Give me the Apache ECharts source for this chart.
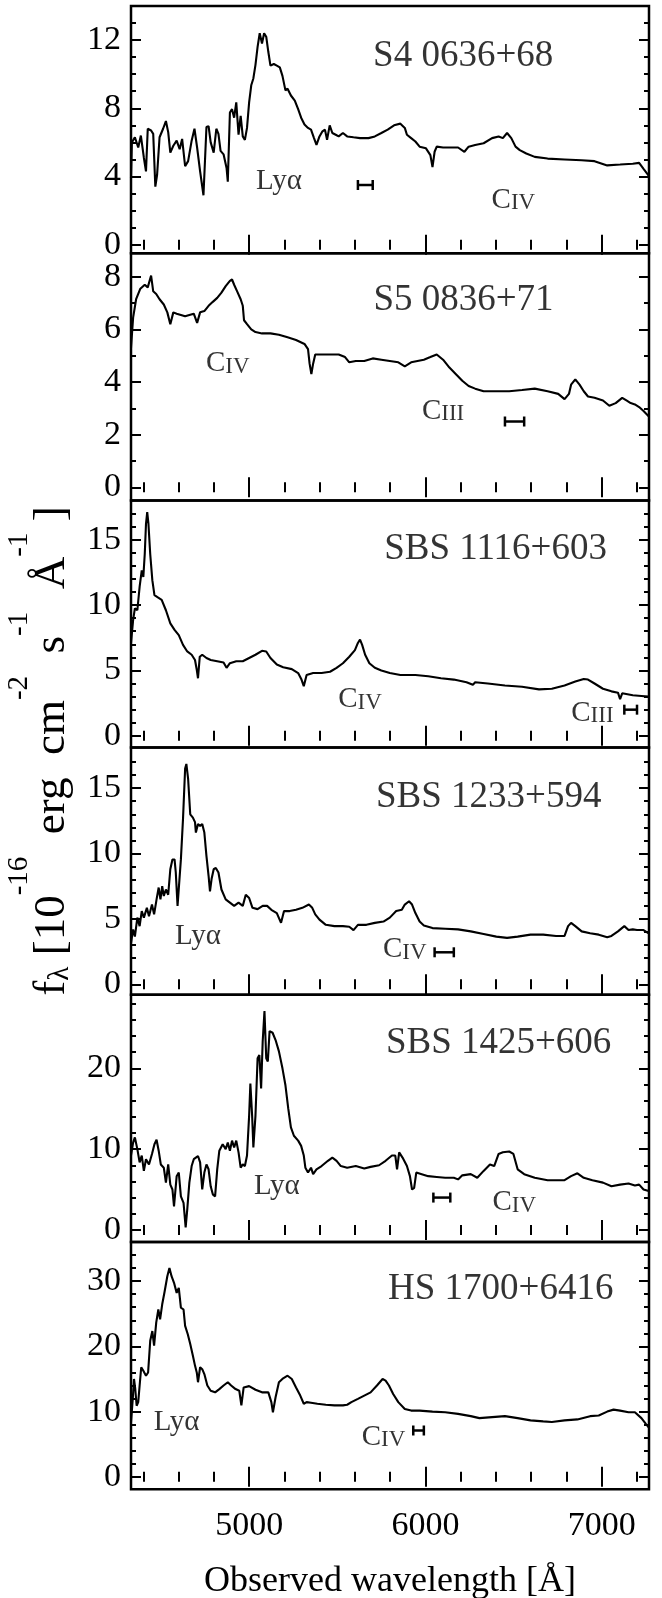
<!DOCTYPE html>
<html><head><meta charset="utf-8">
<script src="https://cdn.jsdelivr.net/npm/echarts@6/dist/echarts.min.js"></script>
<style>html,body{margin:0;padding:0;background:#fff}#c{width:662px;height:1598px}</style>
</head><body><div id="c"></div>
<script>
// ---------------- data ----------------
const WL_MIN = 4330, WL_MAX = 7268;
const xMajorTicks = [5000, 6000, 7000];
const xMinorTicks = [4400,4600,4800,5200,5400,5600,5800,6200,6400,6600,6800,7200];
const xLabel = 'Observed wavelength [Å]';

const panelNames = ['S4 0636+68','S5 0836+71','SBS 1116+603','SBS 1233+594','SBS 1425+606','HS 1700+6416'];
const yMin = [-0.5, -0.5, -0.9, -0.8, -1.5, -1.9];
const yMax = [14.0, 8.9, 18.0, 18.1, 29.1, 36.0];
const yMajorTicks = [[0,4,8,12],[0,2,4,6,8],[0,5,10,15],[0,5,10,15],[0,10,20],[0,10,20,30]];
const yMinorTicks = [
  [1,2,3,5,6,7,9,10,11,13],
  [1,3,5,7],
  [1,2,3,4,6,7,8,9,11,12,13,14,16,17],
  [1,2,3,4,6,7,8,9,11,12,13,14,16,17],
  [2,4,6,8,12,14,16,18,22,24,26,28],
  [2,4,6,8,12,14,16,18,22,24,26,28,32,34]
];

const specS4_0636 = [[4330,3.9],[4335,6.0],[4352,6.3],[4371,5.7],[4386,6.4],[4403,5.1],[4415,4.3],[4425,6.8],[4444,6.7],[4456,6.5],[4468,3.4],[4478,4.1],[4492,6.3],[4512,6.8],[4528,7.25],[4541,6.6],[4553,5.4],[4570,5.8],[4589,6.1],[4606,5.6],[4620,6.2],[4637,4.6],[4654,4.9],[4674,6.1],[4690,6.8],[4705,5.7],[4722,4.3],[4741,2.9],[4758,6.9],[4770,6.95],[4782,6.0],[4799,5.4],[4814,6.8],[4826,6.5],[4838,5.5],[4855,5.3],[4872,4.5],[4879,3.7],[4891,7.75],[4903,7.95],[4915,7.45],[4927,8.35],[4940,6.45],[4952,7.55],[4964,6.35],[4976,6.15],[4988,6.85],[5000,8.35],[5012,9.35],[5024,9.75],[5036,10.55],[5048,11.6],[5060,12.4],[5073,11.8],[5085,12.4],[5097,12.2],[5109,11.3],[5121,10.5],[5140,10.6],[5157,10.5],[5174,10.4],[5189,9.9],[5206,9.05],[5218,9.15],[5237,8.75],[5259,8.45],[5278,7.95],[5295,7.45],[5314,7.05],[5334,6.85],[5351,6.75],[5368,6.25],[5382,5.85],[5399,6.35],[5416,6.65],[5430,6.75],[5442,6.15],[5457,7.0],[5472,6.55],[5491,6.45],[5508,6.35],[5532,6.55],[5556,6.35],[5592,6.3],[5629,6.25],[5677,6.25],[5713,6.35],[5750,6.55],[5786,6.75],[5822,7.0],[5858,7.1],[5883,6.85],[5895,6.45],[5919,6.25],[5943,6.05],[5967,5.75],[6003,5.65],[6028,5.25],[6040,4.55],[6052,5.45],[6064,5.75],[6100,5.7],[6136,5.7],[6185,5.7],[6221,5.45],[6245,5.75],[6282,5.85],[6330,5.95],[6378,6.25],[6415,6.35],[6439,6.25],[6463,6.55],[6487,6.25],[6511,5.75],[6535,5.55],[6572,5.35],[6620,5.15],[6693,5.05],[6789,5.0],[6886,4.95],[6959,4.9],[7031,4.65],[7104,4.7],[7176,4.75],[7212,4.8],[7237,4.45],[7266,4.05]];

const specS5_0836 = [[4330,5.3],[4342,6.45],[4359,7.15],[4383,7.55],[4408,7.7],[4425,7.6],[4444,8.05],[4456,7.45],[4473,7.35],[4492,7.15],[4516,6.95],[4536,6.65],[4553,6.2],[4570,6.65],[4589,6.6],[4613,6.55],[4637,6.5],[4661,6.55],[4686,6.6],[4705,6.25],[4722,6.65],[4746,6.7],[4770,6.9],[4794,7.05],[4819,7.2],[4843,7.4],[4867,7.65],[4891,7.85],[4903,7.9],[4915,7.7],[4932,7.45],[4952,7.15],[4964,6.9],[4971,6.35],[4988,6.2],[5012,6.0],[5036,5.9],[5073,5.85],[5121,5.85],[5169,5.8],[5218,5.7],[5266,5.6],[5314,5.45],[5334,5.25],[5343,4.7],[5353,4.3],[5363,4.7],[5375,5.05],[5411,5.05],[5459,5.05],[5508,5.05],[5544,4.95],[5568,4.75],[5605,4.8],[5653,4.8],[5701,4.9],[5750,4.85],[5798,4.8],[5846,4.75],[5883,4.6],[5919,4.75],[5955,4.8],[5991,4.85],[6028,4.95],[6064,5.05],[6100,4.85],[6136,4.55],[6173,4.3],[6209,4.05],[6245,3.85],[6282,3.75],[6330,3.65],[6402,3.65],[6475,3.65],[6548,3.7],[6620,3.75],[6693,3.65],[6753,3.55],[6789,3.35],[6814,3.55],[6826,3.9],[6850,4.1],[6874,3.9],[6898,3.65],[6922,3.45],[6959,3.4],[7007,3.3],[7043,3.1],[7079,3.2],[7116,3.4],[7140,3.3],[7164,3.2],[7188,3.15],[7212,3.05],[7237,2.9],[7266,2.7]];

const specSBS1116 = [[4330,7.1],[4342,8.85],[4352,9.75],[4366,9.6],[4379,11.4],[4391,12.65],[4400,12.15],[4408,13.9],[4415,16.2],[4422,17.1],[4429,16.2],[4439,13.9],[4451,11.9],[4463,10.75],[4480,10.6],[4504,10.4],[4528,9.6],[4553,8.6],[4577,8.1],[4601,7.7],[4625,6.95],[4649,6.45],[4674,6.2],[4693,5.8],[4703,5.05],[4710,4.4],[4720,6.05],[4734,6.2],[4758,5.95],[4782,5.8],[4819,5.7],[4855,5.6],[4872,5.2],[4891,5.55],[4927,5.7],[4964,5.7],[5000,5.95],[5036,6.2],[5073,6.5],[5097,6.45],[5121,5.95],[5157,5.45],[5193,5.25],[5242,5.1],[5278,4.8],[5297,4.3],[5310,3.8],[5326,4.65],[5363,4.8],[5411,4.8],[5459,4.9],[5496,5.2],[5532,5.55],[5568,6.05],[5600,6.55],[5617,7.1],[5629,7.35],[5641,6.95],[5658,6.2],[5682,5.55],[5713,5.2],[5750,5.0],[5798,4.8],[5858,4.65],[5943,4.65],[6016,4.55],[6088,4.4],[6161,4.3],[6233,4.1],[6269,3.9],[6282,4.1],[6354,4.0],[6451,3.85],[6548,3.75],[6644,3.55],[6717,3.6],[6789,3.85],[6850,4.15],[6898,4.35],[6922,4.3],[6959,4.0],[7007,3.6],[7055,3.4],[7092,3.3],[7104,2.8],[7116,3.25],[7176,3.1],[7225,3.05],[7266,3.0]];

const specSBS1233 = [[4330,3.15],[4342,4.2],[4352,3.65],[4366,5.1],[4379,4.45],[4391,5.6],[4403,5.1],[4420,5.85],[4432,5.2],[4449,6.1],[4461,5.35],[4475,6.5],[4487,7.4],[4497,6.5],[4507,7.5],[4516,6.75],[4528,7.25],[4541,6.85],[4553,8.8],[4565,9.55],[4577,9.55],[4584,8.55],[4594,6.0],[4601,5.85],[4613,9.55],[4625,12.65],[4637,16.5],[4644,16.85],[4654,15.7],[4666,13.0],[4681,12.75],[4693,12.4],[4698,11.6],[4710,12.25],[4722,12.1],[4734,12.25],[4746,11.6],[4758,9.8],[4770,8.3],[4778,7.1],[4787,8.05],[4799,8.8],[4811,8.9],[4826,8.55],[4843,7.25],[4867,6.5],[4891,6.25],[4915,6.0],[4940,6.25],[4964,6.0],[4981,6.85],[5000,6.6],[5019,5.85],[5048,5.75],[5077,6.0],[5102,6.0],[5126,5.7],[5157,5.45],[5181,4.7],[5198,5.6],[5230,5.6],[5266,5.7],[5302,5.85],[5339,6.1],[5358,5.85],[5375,5.35],[5399,4.95],[5435,4.55],[5484,4.45],[5532,4.45],[5568,4.4],[5592,4.15],[5617,4.55],[5665,4.55],[5713,4.7],[5762,4.8],[5798,5.1],[5834,5.6],[5866,5.7],[5883,6.1],[5907,6.35],[5924,6.1],[5943,5.45],[5967,4.8],[5991,4.5],[6040,4.3],[6112,4.25],[6185,4.2],[6257,4.05],[6330,3.85],[6402,3.65],[6463,3.55],[6523,3.65],[6596,3.8],[6668,3.8],[6741,3.7],[6789,3.7],[6809,4.45],[6826,4.7],[6850,4.45],[6886,4.05],[6934,3.9],[6983,3.8],[7031,3.6],[7055,3.7],[7092,4.05],[7128,4.45],[7152,4.15],[7176,4.2],[7200,4.15],[7237,4.15],[7266,3.9]];

const specSBS1425 = [[4330,9.2],[4342,10.8],[4352,11.45],[4366,10.0],[4379,8.35],[4391,9.2],[4403,7.3],[4415,8.75],[4432,8.1],[4449,9.4],[4463,10.6],[4475,11.15],[4487,9.8],[4499,8.1],[4516,7.7],[4528,5.85],[4541,8.1],[4553,5.6],[4565,5.0],[4574,2.9],[4589,6.65],[4601,7.1],[4613,4.15],[4628,3.35],[4640,0.3],[4649,2.5],[4661,5.85],[4674,7.9],[4686,8.75],[4698,8.95],[4710,9.15],[4722,8.35],[4734,5.0],[4746,7.1],[4758,8.1],[4770,7.5],[4782,5.4],[4794,4.4],[4807,4.15],[4819,7.5],[4831,9.8],[4850,10.6],[4867,10.0],[4879,10.8],[4891,9.8],[4903,11.05],[4915,10.2],[4927,11.05],[4940,9.6],[4952,7.7],[4964,8.1],[4976,7.9],[4988,9.2],[5000,14.15],[5007,18.1],[5017,14.15],[5024,10.2],[5036,14.15],[5048,21.25],[5058,21.65],[5068,17.5],[5077,23.35],[5087,27.1],[5097,21.25],[5106,20.85],[5116,24.6],[5133,24.4],[5150,23.5],[5169,22.1],[5189,20.0],[5206,17.9],[5222,15.0],[5237,12.7],[5254,11.65],[5278,11.05],[5295,10.4],[5310,9.2],[5319,7.7],[5334,7.1],[5351,7.7],[5363,6.9],[5382,7.5],[5411,7.9],[5447,8.55],[5472,8.95],[5496,8.55],[5520,7.9],[5556,7.7],[5605,7.9],[5653,7.6],[5689,7.8],[5737,8.0],[5774,8.55],[5810,9.2],[5829,9.2],[5839,7.5],[5851,9.6],[5870,8.95],[5895,7.9],[5912,6.65],[5924,5.0],[5936,5.2],[5948,7.1],[5979,6.9],[6016,6.65],[6064,6.55],[6112,6.45],[6161,6.45],[6185,6.25],[6209,6.75],[6257,6.9],[6294,6.45],[6330,7.3],[6366,8.1],[6390,7.9],[6415,9.4],[6439,9.6],[6475,9.7],[6499,9.4],[6523,7.5],[6560,6.9],[6620,6.45],[6693,6.15],[6789,6.15],[6826,6.65],[6862,7.0],[6898,6.45],[6947,6.15],[7007,5.85],[7055,5.4],[7104,5.6],[7152,5.75],[7188,5.5],[7212,5.6],[7237,5.0],[7266,4.8]];

const specHS1700 = [[4330,8.4],[4340,11.95],[4347,15.0],[4354,13.5],[4362,10.9],[4371,11.45],[4379,14.0],[4388,16.8],[4400,16.25],[4415,15.5],[4427,16.0],[4439,20.85],[4451,22.35],[4461,20.1],[4473,23.65],[4485,25.65],[4495,24.15],[4507,26.45],[4521,28.45],[4536,30.75],[4548,32.0],[4560,30.75],[4574,29.75],[4589,28.2],[4601,28.95],[4613,25.95],[4628,25.65],[4637,23.15],[4652,21.85],[4666,20.35],[4681,18.55],[4693,17.05],[4703,16.0],[4710,14.5],[4722,16.8],[4734,16.5],[4746,15.75],[4763,14.0],[4782,13.2],[4807,12.95],[4831,13.45],[4855,14.0],[4879,14.5],[4898,14.0],[4923,13.45],[4944,13.2],[4956,10.95],[4969,13.7],[5000,13.9],[5036,13.35],[5073,12.95],[5109,12.95],[5126,11.45],[5135,9.9],[5150,12.2],[5169,14.5],[5193,15.1],[5218,15.5],[5242,15.0],[5266,13.7],[5290,12.45],[5310,11.2],[5326,11.45],[5351,11.35],[5387,11.2],[5435,11.05],[5484,10.95],[5532,10.95],[5556,11.05],[5580,11.45],[5617,11.95],[5653,12.45],[5689,12.95],[5725,14.0],[5757,15.0],[5774,14.75],[5793,14.0],[5817,12.7],[5846,11.45],[5883,10.4],[5919,10.15],[5967,10.15],[6040,10.0],[6112,9.9],[6185,9.65],[6257,9.3],[6306,9.0],[6378,9.15],[6451,9.3],[6523,9.0],[6596,8.65],[6668,8.5],[6717,8.4],[6789,8.65],[6862,8.8],[6934,9.3],[6983,9.4],[7031,10.0],[7067,10.3],[7104,10.15],[7152,9.9],[7188,9.9],[7225,9.0],[7249,8.15],[7266,7.6]];

const spectra = [specS4_0636, specS5_0836, specSBS1116, specSBS1233, specSBS1425, specHS1700];

// emission-line labels: [wavelength, flux, text]
const lineLabels = [
  [[5169, 3.7, 'Lyα'], [6499, 2.6, 'C{sc|IV}']],
  [[4879, 4.7, 'C{sc|IV}'], [6100, 2.9, 'C{sc|III}']],
  [[5629, 2.75, 'C{sc|IV}'], [6947, 1.75, 'C{sc|III}']],
  [[4710, 3.7, 'Lyα'], [5883, 2.65, 'C{sc|IV}']],
  [[5157, 5.4, 'Lyα'], [6504, 3.35, 'C{sc|IV}']],
  [[4589, 8.4, 'Lyα'], [5762, 6.1, 'C{sc|IV}']]
];
// panel name anchor: [wavelength, flux]
const nameAnchors = [[6214, 11.07], [6216, 7.1], [6398, 14.3], [6359, 14.3], [6415, 23.1], [6427, 28.7]];
// resolution bars: [from, to, flux]
const resBars = [[5617, 5701, 3.5], [6451, 6560, 2.5], [7128, 7200, 2.0], [6052, 6161, 2.45], [6045, 6141, 4.0], [5931, 5991, 7.1]];

// ---------------- layout / style ----------------
const FONT = 'Liberation Serif';
const TOP = 6, PANEL_H = 247.2, LEFT = 131, RIGHT = 13;
const tickStyle = {color: '#000', width: 2};

const grids = [], xAxes = [], yAxes = [], series = [];
for (let i = 0; i < 6; i++) {
  grids.push({left: LEFT, right: RIGHT, top: TOP + i * PANEL_H, height: PANEL_H,
    outerBoundsMode: 'none', containLabel: false,
    show: true, borderColor: '#000', borderWidth: 2.5, backgroundColor: 'transparent'});
  const xc = {type: 'value', gridIndex: i, min: WL_MIN, max: WL_MAX, axisLine: {show: false},
    splitLine: {show: false}, axisLabel: {show: false}};
  const last = i === 5;
  xAxes.push(Object.assign({}, xc, {position: 'bottom',
    axisTick: {show: true, inside: true, length: 10, customValues: xMajorTicks, lineStyle: tickStyle},
    axisLabel: last ? {show: true, customValues: xMajorTicks, formatter: v => String(v),
      fontSize: 34, fontFamily: FONT, color: '#000', margin: 20} : {show: false},
    name: last ? xLabel : '', nameLocation: 'middle', nameGap: 74,
    nameTextStyle: {fontSize: 36, fontFamily: FONT, color: '#000'}}));
  xAxes.push(Object.assign({}, xc, {position: 'bottom',
    axisTick: {show: true, inside: true, length: 5, customValues: xMinorTicks, lineStyle: tickStyle}}));
  xAxes.push(Object.assign({}, xc, {position: 'top',
    axisTick: {show: true, inside: true, length: 10, customValues: xMajorTicks, lineStyle: tickStyle}}));
  xAxes.push(Object.assign({}, xc, {position: 'top',
    axisTick: {show: true, inside: true, length: 5, customValues: xMinorTicks, lineStyle: tickStyle}}));

  const yc = {type: 'value', gridIndex: i, min: yMin[i], max: yMax[i], axisLine: {show: false},
    splitLine: {show: false}, axisLabel: {show: false}};
  yAxes.push(Object.assign({}, yc, {position: 'left',
    axisTick: {show: true, inside: true, length: 10, customValues: yMajorTicks[i], lineStyle: tickStyle},
    axisLabel: {show: true, customValues: yMajorTicks[i], fontSize: 34, fontFamily: FONT, color: '#000', margin: 10}}));
  yAxes.push(Object.assign({}, yc, {position: 'left',
    axisTick: {show: true, inside: true, length: 5, customValues: yMinorTicks[i], lineStyle: tickStyle}}));
  yAxes.push(Object.assign({}, yc, {position: 'right',
    axisTick: {show: true, inside: true, length: 10, customValues: yMajorTicks[i], lineStyle: tickStyle}}));
  yAxes.push(Object.assign({}, yc, {position: 'right',
    axisTick: {show: true, inside: true, length: 5, customValues: yMinorTicks[i], lineStyle: tickStyle}}));

  const ax = {xAxisIndex: 4 * i, yAxisIndex: 4 * i};
  series.push(Object.assign({type: 'line', data: spectra[i], showSymbol: false, symbol: 'none',
    lineStyle: {color: '#000', width: 2.1}, silent: true, animation: false}, ax));
  series.push(Object.assign({type: 'scatter', symbolSize: 1, itemStyle: {color: 'rgba(0,0,0,0)'},
    data: lineLabels[i].map(d => ({value: [d[0], d[1]], name: d[2]})),
    label: {show: true, position: 'inside', formatter: p => p.name, fontSize: 29, fontFamily: FONT, color: '#000',
      rich: {sc: {fontSize: 23, fontFamily: FONT, color: '#000', verticalAlign: 'bottom'}}},
    silent: true, animation: false}, ax));
  series.push(Object.assign({type: 'scatter', symbolSize: 1, itemStyle: {color: 'rgba(0,0,0,0)'},
    data: [{value: nameAnchors[i], name: panelNames[i]}],
    label: {show: true, position: 'inside', formatter: p => p.name, fontSize: 37, fontFamily: FONT, color: '#000'},
    silent: true, animation: false}, ax));
  series.push(Object.assign({type: 'custom', data: [resBars[i]], silent: true, animation: false,
    renderItem: (params, api) => {
      const a = api.coord([api.value(0), api.value(2)]);
      const b = api.coord([api.value(1), api.value(2)]);
      const st = {stroke: '#000', lineWidth: 2.5};
      return {type: 'group', children: [
        {type: 'line', shape: {x1: a[0], y1: a[1], x2: b[0], y2: b[1]}, style: st},
        {type: 'line', shape: {x1: a[0], y1: a[1] - 5, x2: a[0], y2: a[1] + 5}, style: st},
        {type: 'line', shape: {x1: b[0], y1: b[1] - 5, x2: b[0], y2: b[1] + 5}, style: st}
      ]};
    }}, ax));
}

const yTitle = '{a|f}{sub|λ}{a| [10}{sup|-16}{a|  erg  cm}{sup|-2}{a|  s}{sup|-1}{a|  Å}{sup|-1}{a| ]}';

const chart = echarts.init(document.getElementById('c'), null, {renderer: 'canvas'});
chart.setOption({
  animation: false,
  backgroundColor: '#fff',
  grid: grids, xAxis: xAxes, yAxis: yAxes, series: series,
  graphic: [{
    type: 'text', x: 40, y: 751, rotation: Math.PI / 2,
    style: {
      text: yTitle, align: 'center', verticalAlign: 'middle', fill: '#000',
      rich: {
        a: {fontSize: 45, fontFamily: FONT, fill: '#000', lineHeight: 70, verticalAlign: 'bottom'},
        sup: {fontSize: 29, fontFamily: FONT, fill: '#000', lineHeight: 29, verticalAlign: 'top'},
        sub: {fontSize: 29, fontFamily: FONT, fill: '#000', lineHeight: 29, verticalAlign: 'bottom'}
      }
    }
  }]
});
</script></body></html>
